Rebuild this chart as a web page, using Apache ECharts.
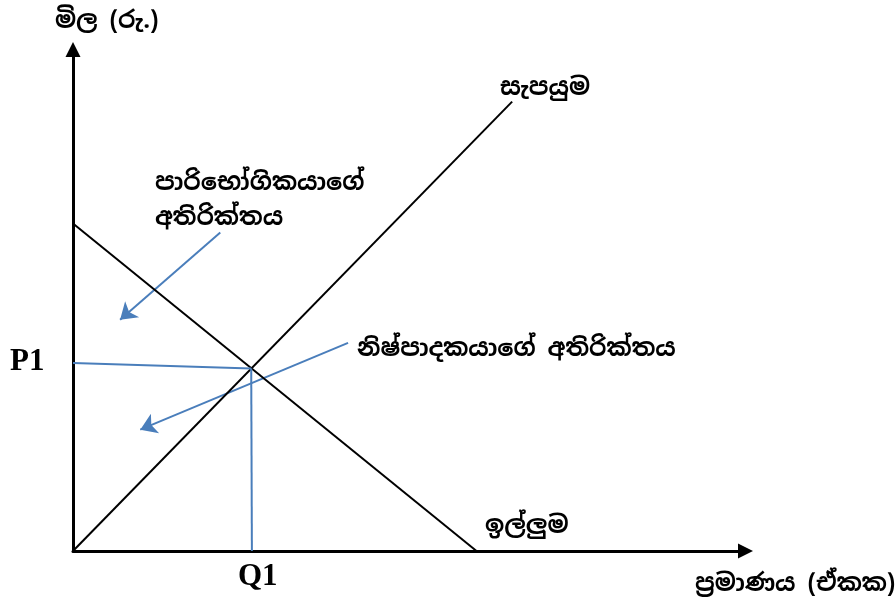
<!DOCTYPE html>
<html>
<head>
<meta charset="utf-8">
<script src="https://cdn.jsdelivr.net/npm/echarts@6/dist/echarts.min.js"></script>
<style>html,body{margin:0;padding:0;background:#fff;}#chart{width:896px;height:600px;}</style>
</head>
<body>
<div id="chart"></div>
<script>
// Data (axis units 0..100)
const demandPoints = [[0, 65.3], [60.0, 0]];
const supplyPoints = [[0, 0], [65.3, 89.6]];
const priceGuide = [[0, 37.5], [26.5, 36.4]];
const quantityGuide = [[26.5, 36.4], [26.6, 0]];
const consumerArrow = [[21.9, 63.5], [7.0, 46.1]];
const producerArrow = [[40.9, 41.5], [10.0, 24.2]];

const labels = {
  yName: 'මිල (රු.)',
  xName: 'ප්\u200dරමාණය (ඒකක)',
  supply: 'සැපයුම',
  demand: 'ඉල්ලුම',
  consumer1: 'පාරිභෝගිකයාගේ',
  consumer2: 'අතිරික්තය',
  producer: 'නිෂ්පාදකයාගේ අතිරික්තය',
  p1: 'P1',
  q1: 'Q1'
};

const sinhalaFont = "'Noto Sans Sinhala','Iskoola Pota','Noto Serif Sinhala','Noto Sans',sans-serif";
const chart = echarts.init(document.getElementById('chart'), null, {renderer: 'canvas'});

function txt(text, x, y, size, bold, serif) {
  return {
    type: 'text', left: x, top: y,
    style: {
      text: text, fill: '#000',
      font: (bold ? 'bold ' : '') + size + 'px ' + (serif ? "'Liberation Serif','Times New Roman',serif" : sinhalaFont)
    }
  };
}

const axisCommon = {
  type: 'value', min: 0, max: 100,
  axisLine: {show: true, symbol: ['none', 'triangle'], symbolSize: [15, 15], lineStyle: {color: '#000', width: 3}},
  axisTick: {show: false}, axisLabel: {show: false}, splitLine: {show: false}
};

chart.setOption({
  animation: false,
  backgroundColor: '#fff',
  grid: {left: 73, right: 150.5, top: 49.5, bottom: 49},
  xAxis: Object.assign({}, axisCommon),
  yAxis: Object.assign({}, axisCommon),
  series: [
    {type: 'line', data: demandPoints, symbol: 'none', lineStyle: {color: '#000', width: 2}},
    {type: 'line', data: supplyPoints, symbol: 'none', lineStyle: {color: '#000', width: 2}},
    {type: 'line', data: priceGuide, symbol: 'none', lineStyle: {color: '#4A7EBB', width: 2}},
    {type: 'line', data: quantityGuide, symbol: 'none', lineStyle: {color: '#4A7EBB', width: 2}},
    {
      type: 'lines', coordinateSystem: 'cartesian2d',
      symbol: ['none', 'arrow'], symbolSize: 16,
      lineStyle: {color: '#4A7EBB', width: 2, opacity: 1},
      data: [{coords: consumerArrow}, {coords: producerArrow}]
    }
  ],
  graphic: [
    txt(labels.yName, 55, 9, 24, true),
    txt(labels.supply, 500, 76, 24, true),
    txt(labels.consumer1, 155, 171, 24, true),
    txt(labels.consumer2, 155, 206, 24, true),
    txt(labels.producer, 357, 337, 24, true),
    txt(labels.demand, 485, 514, 24, true),
    txt(labels.xName, 695, 572, 24, true),
    txt(labels.p1, 10, 346, 31, true, true),
    txt(labels.q1, 238, 561, 31, true, true)
  ]
});
</script>
</body>
</html>
